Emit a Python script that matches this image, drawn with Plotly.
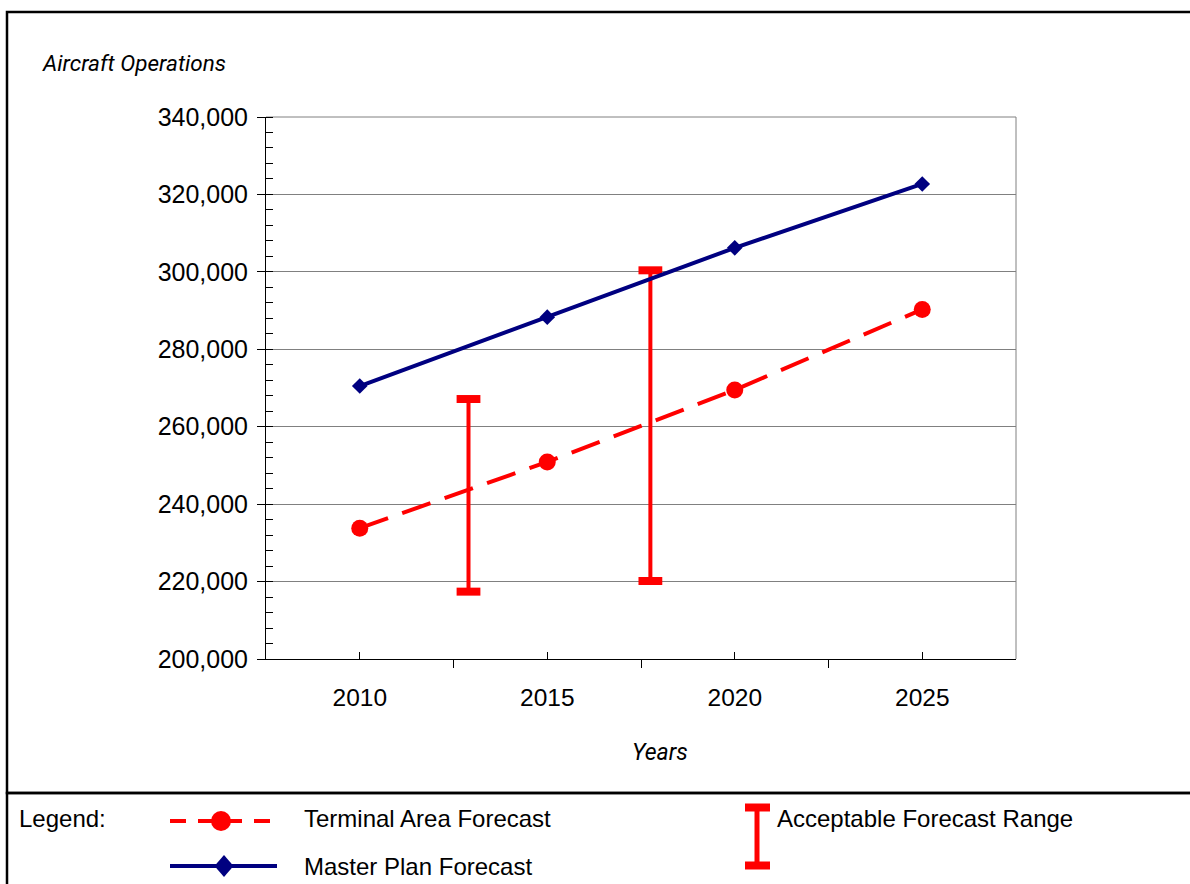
import plotly.graph_objects as go

# Forecast series (annual aircraft operations)
years = [2010, 2015, 2020, 2025]
terminal_area = [233800, 250900, 269500, 290300]
master_plan = [270500, 288300, 306200, 322700]

# Acceptable forecast range bands
range_x = [2012.9, 2017.75]
range_low = [217400, 220150]
range_high = [267150, 300400]

y_ticks = list(range(200000, 340001, 20000))
x_bounds = [2007.5, 2012.5, 2017.5, 2022.5, 2027.5]

W, H = 1190, 884
RED = "#FF0000"
NAVY = "#000080"
SANS = "Liberation Sans, Arial, sans-serif"
NARROW = "Roboto, Liberation Sans, sans-serif"


def px(x):
    return x / W


def py(y):
    return 1 - y / H


fig = go.Figure()

# Acceptable range bars (stem plus thick caps)
for xv, lo, hi in zip(range_x, range_low, range_high):
    fig.add_trace(go.Scatter(
        x=[xv, xv], y=[lo, hi], mode="lines+markers",
        line=dict(color=RED, width=4),
        marker=dict(symbol="line-ew", size=17, color=RED,
                    line=dict(color=RED, width=8)),
        showlegend=False, hoverinfo="skip",
    ))

fig.add_trace(go.Scatter(
    x=years, y=terminal_area, mode="lines+markers",
    name="Terminal Area Forecast",
    line=dict(color=RED, width=4, dash="30px,15px"),
    marker=dict(symbol="circle", size=17, color=RED),
    showlegend=False,
))

fig.add_trace(go.Scatter(
    x=years, y=master_plan, mode="lines+markers",
    name="Master Plan Forecast",
    line=dict(color=NAVY, width=4),
    marker=dict(symbol="diamond", size=12, color=NAVY),
    showlegend=False,
))

shapes = [
    # outer frame of the chart panel
    dict(type="rect", xref="paper", yref="paper",
         x0=px(7), x1=1.05, y0=py(793), y1=py(12),
         line=dict(color="black", width=2.5), layer="above"),
    # legend panel
    dict(type="rect", xref="paper", yref="paper",
         x0=px(7), x1=1.05, y0=-0.1, y1=py(793),
         line=dict(color="black", width=2.5), layer="above"),
    # top and right border of plot area
    dict(type="line", xref="paper", yref="paper", layer="below",
         x0=px(266), x1=px(1016), y0=py(117), y1=py(117),
         line=dict(color="#808080", width=1)),
    dict(type="line", xref="paper", yref="paper", layer="below",
         x0=px(1016), x1=px(1016), y0=py(117), y1=py(659),
         line=dict(color="#808080", width=1)),
    # legend sample: terminal area forecast
    dict(type="line", xref="paper", yref="paper",
         x0=px(170), x1=px(270), y0=py(821), y1=py(821),
         line=dict(color=RED, width=4, dash="16px,12px")),
    dict(type="circle", xref="paper", yref="paper",
         x0=px(211), x1=px(231), y0=py(831), y1=py(811),
         fillcolor=RED, line=dict(color=RED, width=0)),
    # legend sample: master plan forecast
    dict(type="line", xref="paper", yref="paper",
         x0=px(170), x1=px(277), y0=py(866), y1=py(866),
         line=dict(color=NAVY, width=4)),
    dict(type="path", xref="paper", yref="paper",
         path=(f"M {px(224)},{py(855)} L {px(233.5)},{py(866)} "
               f"L {px(224)},{py(877)} L {px(214.5)},{py(866)} Z"),
         fillcolor=NAVY, line=dict(color=NAVY, width=0)),
    # legend sample: acceptable range
    dict(type="line", xref="paper", yref="paper",
         x0=px(757), x1=px(757), y0=py(807), y1=py(866),
         line=dict(color=RED, width=5)),
    dict(type="line", xref="paper", yref="paper",
         x0=px(745), x1=px(770), y0=py(807.5), y1=py(807.5),
         line=dict(color=RED, width=8)),
    dict(type="line", xref="paper", yref="paper",
         x0=px(745), x1=px(770), y0=py(865.5), y1=py(865.5),
         line=dict(color=RED, width=8)),
]


def label(text, x, y, size=24, family=SANS, italic=False, anchor="left"):
    return dict(
        text=f"<i>{text}</i>" if italic else text,
        xref="paper", yref="paper", x=px(x), y=py(y),
        xanchor=anchor, yanchor="middle", showarrow=False,
        font=dict(family=family, size=size, color="black"),
    )


annotations = [
    label("Aircraft Operations", 40, 63, size=22.5, family=NARROW, italic=True),
    label("Years", 660, 752, size=23, family=NARROW, italic=True, anchor="center"),
    label("Legend:", 17, 818),
    label("Terminal Area Forecast", 302, 818),
    label("Master Plan Forecast", 302, 866),
    label("Acceptable Forecast Range", 775, 818),
]

fig.update_layout(
    width=W, height=H,
    margin=dict(l=0, r=0, t=0, b=0),
    paper_bgcolor="white", plot_bgcolor="white",
    font=dict(family=SANS, color="black"),
    shapes=shapes, annotations=annotations,
    showlegend=False,
    xaxis=dict(
        domain=[px(266), px(1016)],
        range=[x_bounds[0], x_bounds[-1]],
        tickmode="array", tickvals=years, ticktext=[str(y) for y in years],
        ticks="inside", ticklen=7, tickcolor="black", tickwidth=1,
        minor=dict(tickmode="array", tickvals=x_bounds, ticks="outside",
                   ticklen=8, tickcolor="black", tickwidth=1, showgrid=False),
        showline=True, linecolor="black", linewidth=1,
        showgrid=False, zeroline=False, automargin=False,
        tickfont=dict(family=SANS, size=24.5, color="black"),
        ticklabelstandoff=17,
    ),
    yaxis=dict(
        domain=[py(659), py(117)],
        range=[y_ticks[0], y_ticks[-1]],
        tickmode="array", tickvals=y_ticks, tickformat=",",
        ticks="outside", ticklen=8, tickcolor="black", tickwidth=1,
        minor=dict(dtick=4000, tick0=200000, ticks="inside", ticklen=7,
                   tickcolor="black", tickwidth=1, showgrid=False),
        showline=True, linecolor="black", linewidth=1,
        showgrid=True, gridcolor="#808080", gridwidth=1,
        zeroline=False, automargin=False,
        tickfont=dict(family=SANS, size=25, color="black"),
        ticklabelstandoff=4,
    ),
)

fig.write_html("out.html")
